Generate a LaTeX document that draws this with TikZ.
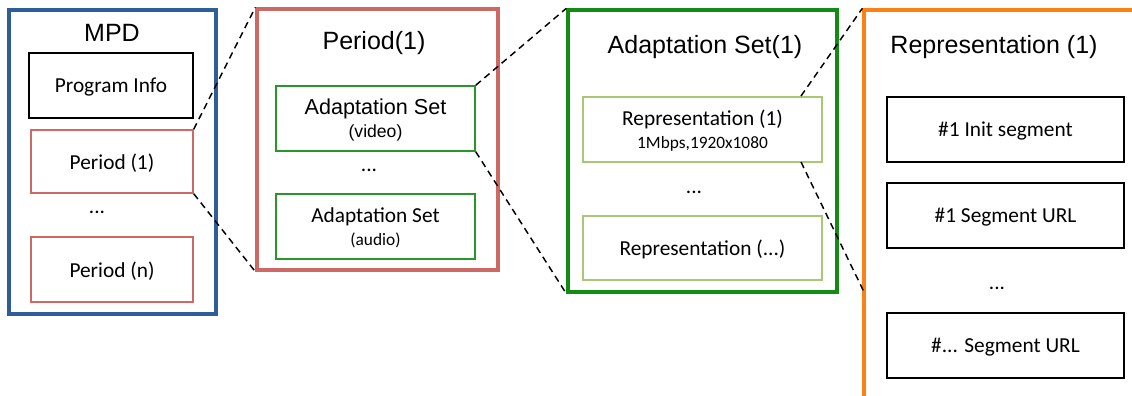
\documentclass[tikz,border=0pt]{standalone}
\usepackage{fontspec}
\newfontfamily\arialfont{Liberation Sans}
\newfontfamily\califont{Carlito}
\definecolor{mpdblue}{RGB}{46,94,152}
\definecolor{perred}{RGB}{205,105,100}
\definecolor{asgreen}{RGB}{20,140,20}
\definecolor{asinner}{RGB}{40,150,40}
\definecolor{replight}{RGB}{168,200,115}
\definecolor{reporange}{RGB}{250,130,20}
\begin{document}
\begin{tikzpicture}[x=0.75pt,y=-0.75pt,
  bigbox/.style={draw, line width=2.5pt, inner sep=0pt},
  title/.style={font=\arialfont\fontsize{18.75}{22}\selectfont, inner sep=0pt},
  inbox/.style={draw, line width=1.1pt, fill=white, align=center, inner sep=0pt, text depth=0pt,
    font=\califont\fontsize{16}{17.25}\selectfont},
  dots/.style={font=\califont\fontsize{16}{17}\selectfont, inner sep=0pt},
  link/.style={draw, line width=1.1pt, dash pattern=on 5pt off 3.5pt}]
\useasboundingbox (0,0) rectangle (1132,396);
\clip (0,0) rectangle (1132,396);
% big containers
\node[bigbox, draw=mpdblue, line width=2.3pt, minimum width=155.25pt, minimum height=228pt] (mpd) at (112.5,162) {};
\node[bigbox, draw=perred, minimum width=180.75pt, minimum height=195.75pt] (period) at (377.5,139.5) {};
\node[bigbox, draw=asgreen, minimum width=201.75pt, minimum height=211.5pt] (as) at (702.5,151) {};
\node[bigbox, draw=reporange, minimum width=252pt, minimum height=337.5pt] (rep) at (1032,235) {};
% titles
\node[title] (tmpd) at (112,33) {MPD};
\node[title] (tper) at (374,43) {Period(1)};
\node[title] (tas) at (705,47) {Adaptation Set(1)};
\node[title] (trep) at (994,47) {Representation (1)};
% connector end points
\coordinate (r1t) at (801,96);
\coordinate (r1b) at (801,162);
\coordinate (repb) at (864,292);
% MPD inner
\node[inbox, draw=black, minimum width=123pt, minimum height=48.75pt] (prog) at (111,85.5) {Program Info};
\node[inbox, draw=perred, minimum width=121.5pt, minimum height=47.25pt] (p1) at (112,161.5) {Period (1)};
\node[dots] (d1) at (97,212) {...};
\node[inbox, draw=perred, minimum width=121.5pt, minimum height=48.75pt] (pn) at (112,269.5) {Period (n)};
% Period inner
\node[inbox, draw=asinner, minimum width=149.25pt, minimum height=48.75pt] (asv) at (375.5,118.5)
  {{\arialfont\fontsize{16.2}{17.25}\selectfont Adaptation Set}\\{\arialfont\fontsize{13.2}{17.25}\selectfont (video)}};
\node[dots] (d2) at (369,170) {...};
\node[inbox, draw=asinner, minimum width=149.25pt, minimum height=48.75pt] (asa) at (375.5,226.5)
  {Adaptation Set\\{\fontsize{13}{17.25}\selectfont (audio)}};
% AS inner
\node[inbox, draw=replight, minimum width=179.25pt, minimum height=48.75pt] (rep1) at (702.5,129.5)
  {Representation (1)\\{\fontsize{13}{17.25}\selectfont 1Mbps,1920x1080}};
\node[dots] (d3) at (694,192) {...};
\node[inbox, draw=replight, minimum width=179.25pt, minimum height=48pt] (repn) at (702.5,248) {Representation (...)};
% Rep inner
\node[inbox, draw=black, minimum width=177.75pt, minimum height=48.75pt] (init) at (1005.5,129.5) {\#1 Init segment};
\node[inbox, draw=black, minimum width=177.75pt, minimum height=48.75pt] (seg1) at (1005.5,215.5) {\#1 Segment URL};
\node[dots] (d4) at (997,288) {...};
\node[inbox, draw=black, minimum width=177.75pt, minimum height=48.75pt] (segn) at (1005.5,345.5) {\#... Segment URL};
% dashed links
\draw[link] (p1.north east) -- (period.north west);
\draw[link] (p1.south east) -- (period.south west);
\draw[link] (asv.north east) -- (as.north west);
\draw[link] (asv.south east) -- (as.south west);
\draw[link] (r1t) -- (rep.north west);
\draw[link] (r1b) -- (repb);
\end{tikzpicture}
\end{document}
